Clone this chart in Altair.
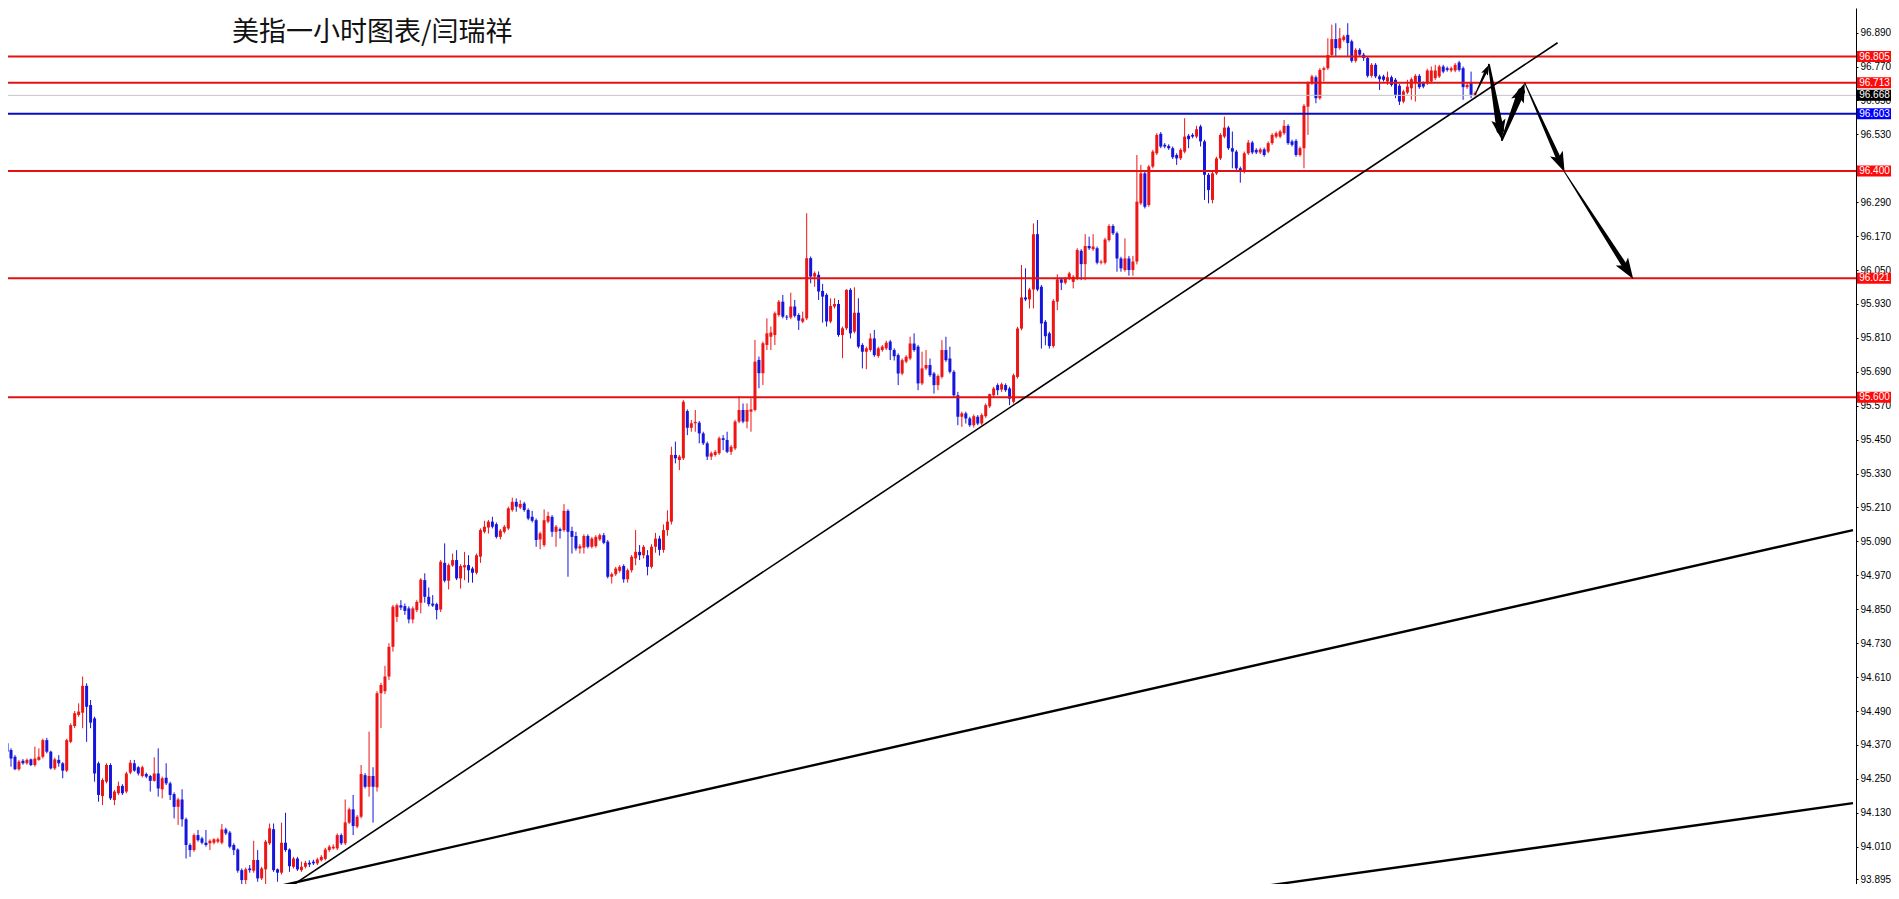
import math
import altair as alt
import pandas as pd

# ---------------- candle data (hourly USD index) ----------------
OPEN = [
94.376, 94.352, 94.328, 94.284, 94.314, 94.305, 94.319, 94.299, 94.317, 94.328,
94.387, 94.346, 94.287, 94.317, 94.305, 94.279, 94.381, 94.437, 94.476, 94.484,
94.579, 94.511, 94.464, 94.305, 94.189, 94.240, 94.299, 94.175, 94.199, 94.225,
94.205, 94.272, 94.305, 94.291, 94.260, 94.267, 94.260, 94.243, 94.269, 94.213,
94.254, 94.234, 94.196, 94.151, 94.177, 94.107, 94.016, 93.998, 94.051, 94.039,
94.024, 94.022, 94.024, 94.028, 94.024, 94.071, 94.060, 94.016, 94.000, 93.927,
93.892, 93.933, 93.925, 93.963, 93.898, 93.930, 94.022, 94.072, 93.930, 93.918,
94.024, 94.000, 93.939, 93.968, 93.927, 93.939, 93.953, 93.957, 93.951, 93.962,
93.967, 93.998, 94.004, 94.004, 94.051, 94.022, 94.095, 94.142, 94.081, 94.116,
94.263, 94.222, 94.260, 94.220, 94.553, 94.560, 94.612, 94.717, 94.823, 94.864,
94.861, 94.853, 94.814, 94.847, 94.873, 94.953, 94.894, 94.870, 94.868, 94.849,
95.014, 94.951, 95.005, 95.024, 94.959, 94.998, 95.006, 94.994, 94.979, 95.036,
95.124, 95.139, 95.160, 95.151, 95.106, 95.124, 95.136, 95.201, 95.230, 95.210,
95.224, 95.201, 95.177, 95.165, 95.097, 95.077, 95.160, 95.177, 95.124, 95.133,
95.130, 95.198, 95.127, 95.109, 95.065, 95.068, 95.109, 95.071, 95.073, 95.097,
95.112, 95.089, 94.965, 94.974, 94.986, 95.003, 94.956, 94.988, 95.030, 95.053,
95.041, 95.041, 95.000, 95.071, 95.100, 95.060, 95.130, 95.160, 95.396, 95.378,
95.384, 95.551, 95.492, 95.508, 95.510, 95.472, 95.437, 95.390, 95.396, 95.402,
95.455, 95.449, 95.407, 95.419, 95.514, 95.555, 95.514, 95.549, 95.555, 95.732,
95.685, 95.785, 95.814, 95.820, 95.891, 95.938, 95.885, 95.882, 95.921, 95.891,
95.867, 95.879, 96.092, 96.027, 96.033, 95.976, 95.962, 95.868, 95.921, 95.930,
95.820, 95.844, 95.980, 95.832, 95.899, 95.785, 95.761, 95.767, 95.808, 95.746,
95.767, 95.773, 95.797, 95.767, 95.749, 95.684, 95.726, 95.737, 95.790, 95.779,
95.649, 95.702, 95.714, 95.684, 95.643, 95.672, 95.767, 95.737, 95.690, 95.607,
95.531, 95.543, 95.525, 95.501, 95.531, 95.507, 95.533, 95.568, 95.607, 95.643,
95.627, 95.643, 95.631, 95.584, 95.672, 95.843, 95.953, 95.946, 95.981, 96.177,
95.991, 95.867, 95.826, 95.781, 95.938, 96.017, 96.005, 96.020, 96.008, 96.020,
96.118, 96.071, 96.135, 96.124, 96.127, 96.076, 96.076, 96.156, 96.206, 96.180,
96.091, 96.050, 96.091, 96.050, 96.080, 96.286, 96.392, 96.280, 96.416, 96.463,
96.532, 96.493, 96.489, 96.481, 96.457, 96.445, 96.469, 96.525, 96.528, 96.522,
96.558, 96.505, 96.387, 96.298, 96.392, 96.445, 96.522, 96.554, 96.481, 96.469,
96.410, 96.398, 96.463, 96.501, 96.475, 96.466, 96.477, 96.469, 96.499, 96.522,
96.522, 96.534, 96.560, 96.505, 96.507, 96.457, 96.481, 96.628, 96.711, 96.732,
96.658, 96.758, 96.764, 96.811, 96.867, 96.835, 96.864, 96.882, 96.859, 96.790,
96.829, 96.812, 96.800, 96.737, 96.776, 96.735, 96.735, 96.717, 96.732, 96.723,
96.702, 96.646, 96.678, 96.693, 96.713, 96.737, 96.711, 96.711, 96.717, 96.729,
96.735, 96.770, 96.764, 96.756, 96.756, 96.784, 96.764, 96.697, 96.711, 96.670,
]
HIGH = [
94.387, 94.358, 94.334, 94.317, 94.320, 94.322, 94.322, 94.364, 94.358, 94.392,
94.395, 94.350, 94.325, 94.334, 94.309, 94.392, 94.446, 94.490, 94.517, 94.612,
94.588, 94.529, 94.470, 94.311, 94.252, 94.305, 94.305, 94.211, 94.240, 94.231,
94.275, 94.317, 94.317, 94.295, 94.297, 94.272, 94.264, 94.326, 94.358, 94.258,
94.305, 94.240, 94.202, 94.183, 94.213, 94.113, 94.022, 94.057, 94.069, 94.045,
94.069, 94.036, 94.040, 94.042, 94.090, 94.077, 94.066, 94.022, 94.004, 93.933,
93.936, 93.945, 94.031, 93.998, 93.939, 94.034, 94.092, 94.092, 93.933, 94.095,
94.130, 94.004, 93.974, 93.974, 93.957, 93.960, 93.962, 93.964, 93.971, 93.980,
94.006, 94.016, 94.018, 94.057, 94.057, 94.177, 94.148, 94.193, 94.122, 94.299,
94.270, 94.417, 94.291, 94.560, 94.590, 94.650, 94.730, 94.865, 94.870, 94.882,
94.870, 94.860, 94.860, 94.882, 94.960, 94.977, 94.927, 94.900, 94.873, 95.024,
95.083, 95.012, 95.047, 95.059, 95.009, 95.053, 95.041, 95.000, 95.047, 95.136,
95.163, 95.166, 95.177, 95.157, 95.134, 95.148, 95.213, 95.245, 95.242, 95.236,
95.230, 95.207, 95.198, 95.171, 95.124, 95.203, 95.195, 95.183, 95.148, 95.139,
95.222, 95.204, 95.142, 95.124, 95.080, 95.115, 95.115, 95.106, 95.112, 95.118,
95.120, 95.095, 94.980, 95.000, 95.006, 95.009, 94.994, 95.042, 95.130, 95.077,
95.077, 95.059, 95.080, 95.120, 95.110, 95.150, 95.200, 95.425, 95.443, 95.396,
95.590, 95.557, 95.520, 95.555, 95.516, 95.478, 95.443, 95.408, 95.413, 95.461,
95.466, 95.478, 95.431, 95.520, 95.604, 95.578, 95.578, 95.596, 95.803, 95.744,
95.797, 95.879, 95.850, 95.903, 95.944, 95.962, 95.891, 95.970, 95.944, 95.897,
95.903, 96.251, 96.098, 96.045, 96.045, 96.001, 95.968, 95.950, 95.950, 95.944,
95.850, 95.982, 95.986, 95.989, 95.950, 95.791, 95.779, 95.826, 95.838, 95.779,
95.785, 95.800, 95.803, 95.773, 95.755, 95.737, 95.749, 95.814, 95.826, 95.785,
95.761, 95.767, 95.737, 95.690, 95.681, 95.802, 95.814, 95.779, 95.696, 95.619,
95.549, 95.549, 95.531, 95.539, 95.537, 95.543, 95.578, 95.613, 95.637, 95.649,
95.652, 95.649, 95.637, 95.684, 95.849, 96.068, 96.056, 95.987, 96.215, 96.227,
95.997, 95.873, 95.832, 95.947, 96.035, 96.023, 96.026, 96.044, 96.032, 96.127,
96.124, 96.177, 96.168, 96.177, 96.133, 96.086, 96.164, 96.212, 96.212, 96.186,
96.097, 96.162, 96.100, 96.100, 96.457, 96.422, 96.400, 96.422, 96.475, 96.534,
96.538, 96.499, 96.495, 96.487, 96.463, 96.481, 96.587, 96.531, 96.534, 96.560,
96.564, 96.511, 96.393, 96.398, 96.451, 96.534, 96.593, 96.560, 96.540, 96.475,
96.416, 96.469, 96.510, 96.507, 96.481, 96.483, 96.483, 96.505, 96.534, 96.540,
96.546, 96.581, 96.566, 96.511, 96.513, 96.487, 96.637, 96.717, 96.741, 96.738,
96.764, 96.770, 96.870, 96.918, 96.923, 96.906, 96.882, 96.923, 96.865, 96.835,
96.835, 96.818, 96.806, 96.782, 96.782, 96.741, 96.741, 96.752, 96.738, 96.729,
96.708, 96.688, 96.723, 96.731, 96.743, 96.743, 96.717, 96.762, 96.770, 96.776,
96.776, 96.776, 96.770, 96.770, 96.782, 96.790, 96.770, 96.711, 96.752, 96.682,
]
LOW = [
94.317, 94.293, 94.281, 94.279, 94.300, 94.300, 94.295, 94.293, 94.314, 94.322,
94.340, 94.283, 94.281, 94.293, 94.252, 94.274, 94.376, 94.430, 94.470, 94.429,
94.381, 94.429, 94.240, 94.169, 94.157, 94.234, 94.175, 94.157, 94.193, 94.193,
94.199, 94.266, 94.275, 94.262, 94.255, 94.252, 94.205, 94.240, 94.187, 94.181,
94.228, 94.175, 94.110, 94.087, 94.081, 93.968, 93.974, 93.992, 94.028, 94.018,
94.010, 93.998, 94.018, 94.022, 94.018, 94.051, 94.004, 93.980, 93.918, 93.851,
93.847, 93.918, 93.918, 93.886, 93.892, 93.859, 94.016, 93.921, 93.886, 93.912,
93.992, 93.921, 93.933, 93.924, 93.921, 93.933, 93.938, 93.945, 93.945, 93.958,
93.962, 93.992, 94.000, 93.998, 94.016, 94.016, 94.090, 94.051, 94.075, 94.110,
94.216, 94.187, 94.095, 94.205, 94.430, 94.550, 94.600, 94.700, 94.805, 94.847,
94.830, 94.800, 94.800, 94.840, 94.835, 94.873, 94.860, 94.858, 94.814, 94.840,
94.945, 94.920, 95.000, 94.953, 94.923, 94.953, 94.944, 94.944, 94.973, 95.014,
95.118, 95.118, 95.136, 95.100, 95.097, 95.118, 95.130, 95.195, 95.195, 95.204,
95.195, 95.165, 95.157, 95.071, 95.062, 95.071, 95.154, 95.106, 95.071, 95.100,
95.124, 94.965, 95.047, 95.057, 95.047, 95.047, 95.065, 95.065, 95.068, 95.092,
95.080, 94.959, 94.941, 94.968, 94.980, 94.944, 94.944, 94.980, 95.006, 95.024,
95.030, 94.970, 94.994, 95.050, 95.040, 95.050, 95.110, 95.150, 95.366, 95.342,
95.378, 95.466, 95.478, 95.478, 95.437, 95.431, 95.378, 95.378, 95.390, 95.396,
95.413, 95.402, 95.396, 95.413, 95.508, 95.508, 95.490, 95.478, 95.550, 95.632,
95.643, 95.767, 95.767, 95.785, 95.885, 95.879, 95.873, 95.876, 95.882, 95.838,
95.862, 95.873, 96.003, 95.991, 95.944, 95.864, 95.850, 95.862, 95.914, 95.814,
95.738, 95.838, 95.808, 95.826, 95.773, 95.702, 95.699, 95.761, 95.743, 95.740,
95.761, 95.767, 95.732, 95.730, 95.643, 95.678, 95.720, 95.731, 95.761, 95.625,
95.643, 95.696, 95.672, 95.613, 95.625, 95.666, 95.725, 95.684, 95.600, 95.501,
95.495, 95.507, 95.495, 95.493, 95.501, 95.501, 95.527, 95.562, 95.601, 95.607,
95.619, 95.619, 95.572, 95.578, 95.666, 95.837, 95.940, 95.914, 95.914, 95.975,
95.772, 95.784, 95.772, 95.775, 95.908, 95.979, 95.999, 96.014, 95.985, 96.014,
96.014, 96.014, 96.121, 96.118, 96.070, 96.070, 96.070, 96.150, 96.174, 96.044,
96.044, 96.044, 96.030, 96.030, 96.070, 96.280, 96.268, 96.274, 96.410, 96.457,
96.481, 96.481, 96.475, 96.443, 96.422, 96.439, 96.463, 96.481, 96.516, 96.516,
96.487, 96.298, 96.286, 96.286, 96.386, 96.439, 96.516, 96.475, 96.410, 96.404,
96.359, 96.392, 96.457, 96.460, 96.460, 96.460, 96.451, 96.463, 96.493, 96.516,
96.516, 96.528, 96.493, 96.487, 96.451, 96.451, 96.410, 96.528, 96.705, 96.640,
96.652, 96.717, 96.758, 96.805, 96.805, 96.829, 96.858, 96.805, 96.784, 96.784,
96.806, 96.790, 96.731, 96.731, 96.729, 96.687, 96.717, 96.705, 96.699, 96.658,
96.634, 96.640, 96.672, 96.652, 96.646, 96.691, 96.693, 96.705, 96.711, 96.723,
96.729, 96.746, 96.752, 96.750, 96.750, 96.752, 96.652, 96.691, 96.658, 96.664,
]
CLOSE = [
94.346, 94.322, 94.284, 94.311, 94.305, 94.317, 94.299, 94.322, 94.328, 94.387,
94.346, 94.287, 94.319, 94.305, 94.279, 94.387, 94.440, 94.482, 94.488, 94.579,
94.505, 94.449, 94.269, 94.193, 94.246, 94.299, 94.181, 94.205, 94.225, 94.199,
94.269, 94.307, 94.279, 94.269, 94.291, 94.258, 94.243, 94.269, 94.216, 94.252,
94.234, 94.193, 94.151, 94.177, 94.107, 94.016, 93.998, 94.051, 94.033, 94.024,
94.016, 94.031, 94.036, 94.036, 94.071, 94.057, 94.010, 93.998, 93.925, 93.892,
93.930, 93.927, 93.963, 93.898, 93.933, 94.028, 94.075, 93.927, 93.918, 94.024,
93.998, 93.941, 93.968, 93.930, 93.939, 93.953, 93.947, 93.951, 93.965, 93.974,
94.000, 94.010, 94.010, 94.051, 94.022, 94.096, 94.142, 94.083, 94.116, 94.267,
94.222, 94.260, 94.222, 94.553, 94.582, 94.612, 94.717, 94.859, 94.864, 94.856,
94.844, 94.814, 94.853, 94.876, 94.955, 94.894, 94.868, 94.863, 94.847, 95.018,
94.951, 95.006, 95.024, 94.959, 95.003, 95.006, 94.988, 94.979, 95.041, 95.130,
95.142, 95.160, 95.142, 95.106, 95.128, 95.142, 95.207, 95.230, 95.213, 95.222,
95.201, 95.171, 95.163, 95.095, 95.118, 95.165, 95.180, 95.124, 95.142, 95.127,
95.198, 95.124, 95.106, 95.065, 95.073, 95.109, 95.071, 95.100, 95.106, 95.112,
95.085, 94.965, 94.974, 94.994, 95.000, 94.956, 94.988, 95.036, 95.053, 95.041,
95.071, 95.000, 95.071, 95.100, 95.060, 95.130, 95.160, 95.396, 95.384, 95.390,
95.584, 95.492, 95.508, 95.513, 95.472, 95.437, 95.390, 95.402, 95.407, 95.455,
95.449, 95.407, 95.425, 95.514, 95.555, 95.514, 95.555, 95.557, 95.726, 95.685,
95.791, 95.826, 95.829, 95.897, 95.938, 95.885, 95.882, 95.921, 95.888, 95.871,
95.879, 96.092, 96.027, 96.039, 95.974, 95.956, 95.868, 95.923, 95.930, 95.820,
95.844, 95.980, 95.826, 95.899, 95.779, 95.761, 95.773, 95.808, 95.749, 95.773,
95.779, 95.793, 95.767, 95.745, 95.684, 95.731, 95.743, 95.790, 95.767, 95.649,
95.702, 95.714, 95.678, 95.643, 95.675, 95.767, 95.731, 95.690, 95.607, 95.531,
95.543, 95.525, 95.501, 95.533, 95.507, 95.537, 95.572, 95.611, 95.631, 95.625,
95.646, 95.625, 95.595, 95.678, 95.843, 95.953, 95.946, 95.981, 96.177, 95.981,
95.861, 95.816, 95.781, 95.941, 96.017, 96.005, 96.020, 96.038, 96.026, 96.121,
96.071, 96.135, 96.127, 96.133, 96.076, 96.080, 96.158, 96.206, 96.180, 96.091,
96.056, 96.091, 96.050, 96.080, 96.292, 96.392, 96.274, 96.416, 96.469, 96.528,
96.487, 96.487, 96.481, 96.449, 96.445, 96.475, 96.522, 96.513, 96.522, 96.548,
96.505, 96.387, 96.333, 96.392, 96.445, 96.528, 96.554, 96.481, 96.469, 96.410,
96.398, 96.463, 96.501, 96.466, 96.466, 96.477, 96.457, 96.499, 96.528, 96.534,
96.540, 96.560, 96.499, 96.493, 96.457, 96.481, 96.631, 96.711, 96.735, 96.658,
96.758, 96.764, 96.811, 96.867, 96.835, 96.870, 96.876, 96.853, 96.790, 96.829,
96.812, 96.800, 96.737, 96.776, 96.735, 96.725, 96.723, 96.732, 96.705, 96.670,
96.646, 96.682, 96.699, 96.725, 96.737, 96.697, 96.699, 96.756, 96.756, 96.756,
96.770, 96.752, 96.758, 96.764, 96.776, 96.758, 96.697, 96.705, 96.670, 96.676,
]
assert len(OPEN) == len(HIGH) == len(LOW) == len(CLOSE), (len(OPEN), len(HIGH), len(LOW), len(CLOSE))

# ---------------- horizontal levels ----------------
LEVELS = [96.805, 96.713, 96.668, 96.603, 96.400, 96.021, 95.600]
LEVEL_LABELS = ["96.805", "96.713", "96.668", "96.603", "96.400", "96.021", "95.600"]
LEVEL_LINE_COLORS = ["#e31212", "#e31212", "#c4c4c4", "#0a0ac8", "#e31212", "#e31212", "#e31212"]
LEVEL_LINE_WIDTHS = [2, 2, 1, 2, 2, 2, 2]
LEVEL_BOX_COLORS = ["#ff0a0a", "#ff0a0a", "#000000", "#0000ff", "#ff0a0a", "#ff0a0a", "#ff0a0a"]

# ---------------- trend lines (bar index, price) ----------------
TREND_ID = ["a", "a", "b", "b", "c", "c"]
TREND_I = [66.5, 389.75, 55.0, 464.0, 292.5, 464.0]
TREND_V = [93.824, 96.854, 93.828, 95.130, 93.824, 94.164]
TREND_W = [1.6, 1.6, 2.4, 2.4, 2.4, 2.4]

# ---------------- projected path arrows ----------------
ARROW_I = [369.0, 372.5, 375.75, 381.5, 391.5, 408.75]
ARROW_V = [96.670, 96.776, 96.510, 96.712, 96.397, 96.018]
SHAFT_W0 = [1.0, 2.0, 2.0, 1.0, 1.0]
SHAFT_W1 = [3.0, 7.5, 7.5, 5.0, 5.5]
HEAD_SIZE = [110, 420, 380, 400, 440]

TITLE = "美指一小时图表/闫瑞祥"
# price scale ticks (96.410 is hidden under the 96.400 tag in the source)
TICKS = [96.890, 96.770, 96.650, 96.530, 96.290, 96.170, 96.050, 95.930,
         95.810, 95.690, 95.570, 95.450, 95.330, 95.210, 95.090, 94.970, 94.850,
         94.730, 94.610, 94.490, 94.370, 94.250, 94.130, 94.010, 93.895]

UP_COLOR = "#ee1515"
DOWN_COLOR = "#1515dd"

# ---------------- layout ----------------
W, H = 1848, 876
X0, X1 = 1.5, 1.5 + W / 4.0
Y0, Y1 = 93.878, 96.977
kx = W / (X1 - X0)
ky = H / (Y1 - Y0)
XS = alt.Scale(domain=[X0, X1], nice=False, zero=False)
YS = alt.Scale(domain=[Y0, Y1], nice=False, zero=False)

candles = pd.DataFrame({
    "i": list(range(len(OPEN))),
    "o": OPEN, "h": HIGH, "l": LOW, "c": CLOSE,
})
candles["col"] = [UP_COLOR if c >= o else DOWN_COLOR for o, c in zip(OPEN, CLOSE)]

levels = pd.DataFrame({
    "v": LEVELS, "lab": LEVEL_LABELS, "lc": LEVEL_LINE_COLORS,
    "lw": LEVEL_LINE_WIDTHS, "bc": LEVEL_BOX_COLORS,
})

trend = pd.DataFrame({"id": TREND_ID, "i": TREND_I, "v": TREND_V, "w": TREND_W})

trail_rows, head_rows = [], []
for s in range(len(ARROW_I) - 1):
    ia, va, ib, vb = ARROW_I[s], ARROW_V[s], ARROW_I[s + 1], ARROW_V[s + 1]
    dx = (ib - ia) * kx
    dy = (vb - va) * ky
    ln = math.hypot(dx, dy)
    ux, uy = dx / ln, dy / ln
    back = math.sqrt(HEAD_SIZE[s]) / 2.0
    ic = ib - back * ux / kx
    vc = vb - back * uy / ky
    ang = math.degrees(math.atan2(dx, dy)) % 360
    trail_rows.append({"seg": s, "ord": 0, "i": ia, "v": va, "w": SHAFT_W0[s]})
    trail_rows.append({"seg": s, "ord": 1, "i": ic, "v": vc, "w": SHAFT_W1[s]})
    head_rows.append({"i": ic, "v": vc, "ang": ang, "sz": HEAD_SIZE[s]})
trail = pd.DataFrame(trail_rows)
heads = pd.DataFrame(head_rows)

yaxis = alt.Axis(orient="right", values=TICKS, format=".3f", title=None, grid=False,
                 labelFont="Liberation Sans", labelFontSize=10, labelColor="black",
                 tickColor="black", tickSize=2, domainColor="black", domainWidth=1,
                 labelPadding=2, labelOverlap=False, labelFlush=False, zindex=0)

X = lambda f: alt.X(f, scale=XS, axis=None)
Y = lambda f: alt.Y(f, scale=YS, axis=yaxis)

wicks = alt.Chart(candles).mark_rule(strokeWidth=1, clip=True).encode(
    x=X("i:Q"), y=Y("l:Q"), y2="h:Q",
    color=alt.Color("col:N", scale=None))
bodies = alt.Chart(candles).mark_bar(size=3, clip=True).encode(
    x=X("i:Q"), y=Y("o:Q"), y2="c:Q", color=alt.Color("col:N", scale=None))

level_lines = alt.Chart(levels).mark_rule().encode(
    y=Y("v:Q"), color=alt.Color("lc:N", scale=None),
    strokeWidth=alt.StrokeWidth("lw:Q", scale=None))

trend_lines = alt.Chart(trend).mark_line(color="black", clip=True).encode(
    x=X("i:Q"), y=Y("v:Q"), detail="id:N",
    strokeWidth=alt.StrokeWidth("w:Q", scale=None))

arrow_shafts = alt.Chart(trail).mark_trail(color="black", clip=True).encode(
    x=X("i:Q"), y=Y("v:Q"), detail="seg:N", order="ord:Q",
    size=alt.Size("w:Q", scale=None))
arrow_heads = alt.Chart(heads).mark_point(
    shape="M0,-1L0.7,1L0,0.55L-0.7,1Z", filled=True, color="black", opacity=1, strokeWidth=0
).encode(x=X("i:Q"), y=Y("v:Q"), angle=alt.Angle("ang:Q", scale=None),
         size=alt.Size("sz:Q", scale=None))

label_boxes = alt.Chart(levels).mark_rule(strokeWidth=11).encode(
    x=alt.value(W + 1), x2=alt.value(W + 35), y=Y("v:Q"),
    color=alt.Color("bc:N", scale=None))
label_texts = alt.Chart(levels).mark_text(
    font="Liberation Sans", fontSize=10, color="white", align="center", baseline="middle"
).encode(x=alt.value(W + 18.5), y=Y("v:Q"), text="lab:N")

title = alt.Chart(pd.DataFrame({"t": [TITLE]})).mark_text(
    font="Noto Sans CJK SC", fontSize=27, color="#111111", align="left", baseline="middle"
).encode(x=alt.value(224), y=alt.value(25), text="t:N")

chart = alt.layer(
    wicks, bodies, level_lines, trend_lines, arrow_shafts, arrow_heads,
    label_boxes, label_texts, title
).properties(
    width=W, height=H,
    autosize=alt.AutoSizeParams(type="none"),
    padding={"left": 0, "top": 0, "right": 35, "bottom": 0},
    background="white",
).configure_view(stroke=None)

chart.save("out.html", embed_options={"renderer": "svg", "actions": False})
